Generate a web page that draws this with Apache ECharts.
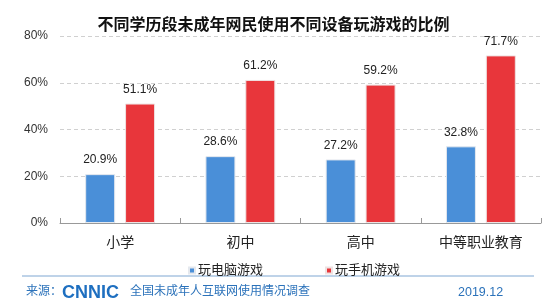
<!DOCTYPE html>
<html>
<head>
<meta charset="utf-8">
<script src="https://cdn.jsdelivr.net/npm/echarts@6/dist/echarts.min.js"></script>
<style>
html,body{margin:0;padding:0;background:#fff;}
#c{width:547px;height:306px;}
</style>
</head>
<body>
<div id="c"></div>
<script>
var titleText = '不同学历段未成年网民使用不同设备玩游戏的比例';
var categories = ['小学', '初中', '高中', '中等职业教育'];
var seriesNames = ['玩电脑游戏', '玩手机游戏'];
var pcGame = [20.9, 28.6, 27.2, 32.8];
var mobileGame = [51.1, 61.2, 59.2, 71.7];
var yTicks = [0, 20, 40, 60, 80];
var sourceLabel = '来源：';
var logoText = 'CNNIC';
var surveyName = '全国未成年人互联网使用情况调查';
var dateText = '2019.12';

var FONT = "'Liberation Sans', 'Noto Sans CJK SC', sans-serif";
var BLUE = '#4A8FD8';
var RED = '#E8363B';
var FOOT = '#2B72BA';

var chart = echarts.init(document.getElementById('c'), null, {renderer: 'canvas'});
chart.setOption({
  animation: false,
  backgroundColor: '#fff',
  textStyle: {fontFamily: FONT},
  title: {
    text: titleText,
    left: 'center',
    top: 13,
    textStyle: {fontSize: 16, fontWeight: 'bold', color: '#111', fontFamily: FONT}
  },
  legend: {
    data: seriesNames,
    left: 183,
    top: 259,
    icon: 'rect',
    itemWidth: 6,
    itemHeight: 6,
    itemGap: 62,
    textStyle: {fontSize: 13, color: '#222', fontFamily: FONT, padding: [0, 0, 0, -2]}
  },
  grid: {left: 60, right: 6, top: 36, bottom: 83, containLabel: false},
  xAxis: {
    type: 'category',
    data: categories,
    axisLine: {lineStyle: {color: '#999'}},
    axisTick: {show: true, inside: true, length: 5, lineStyle: {color: '#999'}},
    axisLabel: {fontSize: 14, color: '#222', margin: 13, fontFamily: FONT}
  },
  yAxis: {
    type: 'value',
    min: yTicks[0],
    max: yTicks[yTicks.length - 1],
    interval: 20,
    axisLine: {show: false},
    axisTick: {show: false},
    axisLabel: {formatter: '{value}%', fontSize: 12, color: '#333', margin: 12, fontFamily: FONT},
    splitLine: {lineStyle: {color: '#d0d0d0', type: [4, 3]}}
  },
  series: [
    {
      name: seriesNames[0],
      type: 'bar',
      data: pcGame,
      barWidth: 30,
      barGap: '33%',
      itemStyle: {color: BLUE, borderColor: '#e4e8ee', borderWidth: 1},
      label: {show: true, position: 'top', distance: 8, formatter: '{c}%', fontSize: 12, color: '#222', fontFamily: FONT}
    },
    {
      name: seriesNames[1],
      type: 'bar',
      data: mobileGame,
      barWidth: 30,
      itemStyle: {color: RED, borderColor: '#eee2e2', borderWidth: 1},
      label: {show: true, position: 'top', distance: 8, formatter: '{c}%', fontSize: 12, color: '#222', fontFamily: FONT}
    }
  ],
  graphic: [
    {type: 'line', shape: {x1: 22, y1: 276, x2: 534, y2: 276}, style: {stroke: '#7FA7D2', lineWidth: 1}},
    {type: 'text', left: 26, top: 286, style: {text: sourceLabel, font: '12px ' + FONT, fill: FOOT}},
    {type: 'text', left: 62, top: 284, style: {text: logoText, font: 'bold 18px ' + FONT, fill: '#1E6FC0'}},
    {type: 'text', left: 130, top: 286, style: {text: surveyName, font: '12px ' + FONT, fill: FOOT}},
    {type: 'text', left: 458, top: 286, style: {text: dateText, font: '12.5px ' + FONT, fill: FOOT}}
  ]
});
</script>
</body>
</html>
